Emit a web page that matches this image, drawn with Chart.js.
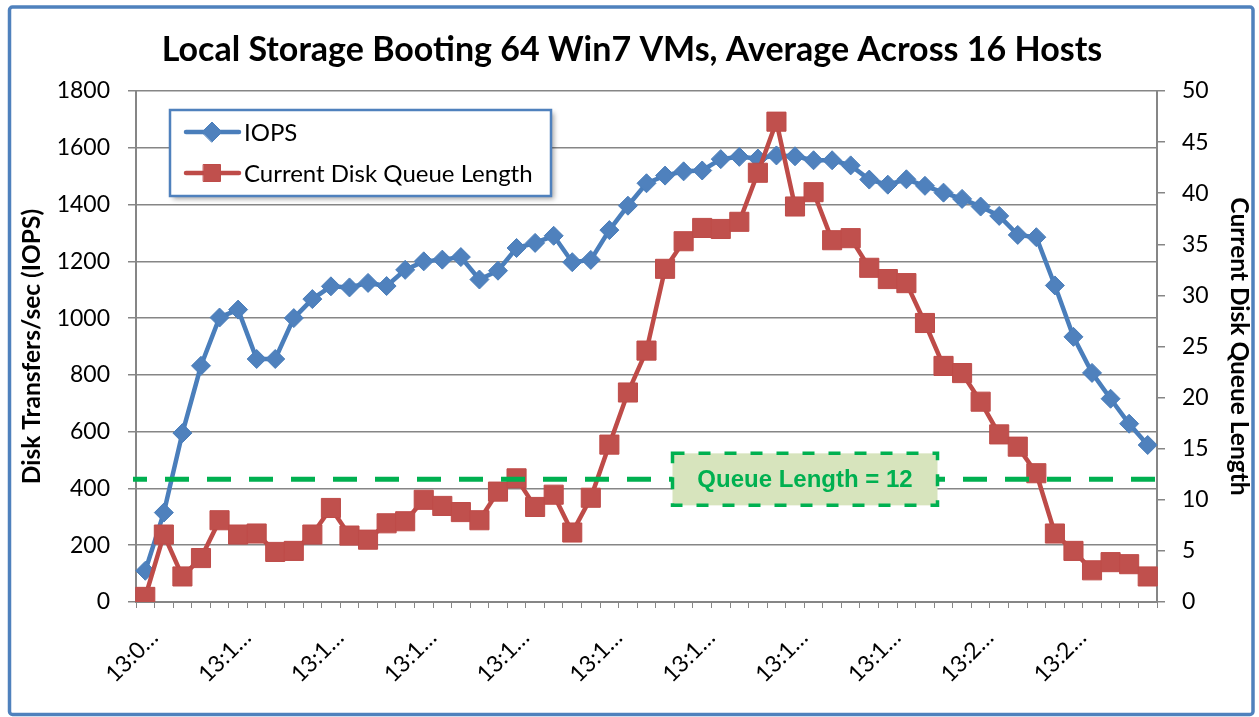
<!DOCTYPE html>
<html>
<head>
<meta charset="utf-8">
<script src="https://cdn.jsdelivr.net/npm/chart.js@4.4.0/dist/chart.umd.min.js"></script>
<style>
html,body{margin:0;padding:0;background:#fff;}
#wrap{width:1259px;height:717px;position:relative;}
</style>
</head>
<body>
<div id="wrap"><canvas id="c" width="1259" height="717"></canvas></div>
<script>
// ---- data ----
const chartTitle = 'Local Storage Booting 64 Win7 VMs, Average Across 16 Hosts';
const categories = [
  '13:0…','13:0…','13:0…','13:0…','13:0…',
  '13:1…','13:1…','13:1…','13:1…','13:1…',
  '13:1…','13:1…','13:1…','13:1…','13:1…',
  '13:1…','13:1…','13:1…','13:1…','13:1…',
  '13:1…','13:1…','13:1…','13:1…','13:1…',
  '13:1…','13:1…','13:1…','13:1…','13:1…',
  '13:1…','13:1…','13:1…','13:1…','13:1…',
  '13:1…','13:1…','13:1…','13:1…','13:1…',
  '13:1…','13:1…','13:1…','13:1…','13:1…',
  '13:2…','13:2…','13:2…','13:2…','13:2…',
  '13:2…','13:2…','13:2…','13:2…','13:2…'
];
const tickLabelEvery = 5;
const iops = [110, 315, 595, 832, 1002, 1030, 856, 856, 1000, 1067,
  1112, 1108, 1124, 1113, 1170, 1200, 1206, 1215, 1136, 1167,
  1247, 1265, 1290, 1197, 1205, 1310, 1396, 1475, 1502, 1517,
  1520, 1560, 1568, 1562, 1573, 1570, 1556, 1556, 1538, 1488,
  1470, 1489, 1466, 1442, 1420, 1393, 1360, 1293, 1285, 1115,
  934, 807, 716, 628, 553];
const queueLength = [0.5, 6.6, 2.5, 4.3, 8.0, 6.6, 6.7, 4.9, 5.0, 6.6,
  9.2, 6.5, 6.1, 7.7, 7.9, 10.0, 9.4, 8.8, 8.0, 10.8,
  12.1, 9.3, 10.5, 6.8, 10.2, 15.4, 20.5, 24.6, 32.6, 35.3,
  36.6, 36.5, 37.2, 42.0, 47.0, 38.7, 40.1, 35.4, 35.6, 32.7,
  31.6, 31.2, 27.3, 23.1, 22.4, 19.6, 16.4, 15.2, 12.6, 6.7,
  5.0, 3.1, 3.9, 3.7, 2.5];
const seriesNames = ['IOPS', 'Current Disk Queue Length'];
const queueThreshold = 12;
const thresholdText = 'Queue Length = 12';
const leftAxis = {min: 0, max: 1800, step: 200, title: 'Disk Transfers/sec (IOPS)'};
const rightAxis = {min: 0, max: 50, step: 5, title: 'Current Disk Queue Length'};

// ---- styles ----
const BLUE = '#4F81BD', BLUE_LINE = '#4A7EBB';
const RED = '#C0504D', RED_LINE = '#BE4B48';
const GREEN = '#00B050';
const GRID = '#868686';
const FONT = 'Lato';

const framePlugin = {
  id: 'frame',
  beforeDraw(chart) {
    const ctx = chart.ctx;
    ctx.save();
    ctx.fillStyle = '#fff';
    ctx.fillRect(0, 0, chart.width, chart.height);
    ctx.strokeStyle = BLUE;
    ctx.lineWidth = 3.5;
    ctx.beginPath();
    ctx.roundRect(9.5, 7, 1243.5, 707.5, 3);
    ctx.stroke();
    ctx.restore();
  }
};

const thresholdPlugin = {
  id: 'threshold',
  afterDatasetsDraw(chart) {
    const ctx = chart.ctx, a = chart.chartArea;
    const y = chart.scales.y1.getPixelForValue(queueThreshold);
    ctx.save();
    ctx.strokeStyle = GREEN;
    ctx.lineWidth = 5;
    ctx.setLineDash([24, 18]);
    ctx.lineDashOffset = 10;
    ctx.beginPath();
    ctx.moveTo(a.left - 3, y);
    ctx.lineTo(a.right - 2, y);
    ctx.stroke();
    // label box
    const bx = a.left + 536.5, bw = 265, bh = 52;
    const by = y - bh / 2;
    ctx.setLineDash([]);
    ctx.fillStyle = '#D7E4BD';
    ctx.fillRect(bx, by, bw, bh);
    ctx.setLineDash([12, 14]);
    ctx.lineDashOffset = 0;
    ctx.lineWidth = 3.5;
    ctx.strokeRect(bx, by, bw, bh);
    ctx.setLineDash([]);
    ctx.fillStyle = GREEN;
    ctx.font = 'bold 24px "Liberation Sans", Arial, sans-serif';
    ctx.textAlign = 'center';
    ctx.textBaseline = 'middle';
    ctx.fillText(thresholdText, bx + bw / 2, y + 1);
    ctx.restore();
  }
};

const legendPlugin = {
  id: 'boxLegend',
  afterDraw(chart) {
    const ctx = chart.ctx;
    const x = 170, y = 110, w = 381, h = 86;
    ctx.save();
    ctx.shadowColor = 'rgba(0,0,0,0.35)';
    ctx.shadowBlur = 5;
    ctx.shadowOffsetX = 3;
    ctx.shadowOffsetY = 3;
    ctx.fillStyle = '#fff';
    ctx.fillRect(x, y, w, h);
    ctx.restore();
    ctx.save();
    ctx.strokeStyle = BLUE;
    ctx.lineWidth = 2.5;
    ctx.strokeRect(x, y, w, h);
    const items = [
      {name: seriesNames[0], line: BLUE_LINE, fill: BLUE, style: 'rectRot', r: 10, yy: y + 22},
      {name: seriesNames[1], line: RED_LINE, fill: RED, style: 'rect', r: 12, yy: y + 63}
    ];
    items.forEach(it => {
      ctx.strokeStyle = it.line;
      ctx.lineWidth = 4.5;
      ctx.lineCap = 'round';
      ctx.beginPath();
      ctx.moveTo(x + 16, it.yy);
      ctx.lineTo(x + 69, it.yy);
      ctx.stroke();
      ctx.fillStyle = it.fill;
      ctx.strokeStyle = it.line;
      ctx.lineWidth = 1;
      Chart.helpers.drawPoint(ctx, {pointStyle: it.style, radius: it.r, rotation: 0, borderWidth: 1}, x + 42, it.yy);
      ctx.fillStyle = '#000';
      ctx.font = '24px ' + FONT;
      ctx.textAlign = 'left';
      ctx.textBaseline = 'middle';
      ctx.fillText(it.name, x + 74, it.yy + 1);
    });
    ctx.restore();
  }
};

new Chart(document.getElementById('c').getContext('2d'), {
  type: 'line',
  data: {
    labels: categories,
    datasets: [
      {
        label: seriesNames[0], data: iops, yAxisID: 'y', order: 2,
        borderColor: BLUE_LINE, backgroundColor: BLUE, borderWidth: 4.5,
        pointStyle: 'rectRot', pointRadius: 9.5, pointBorderWidth: 1,
        pointBackgroundColor: BLUE, pointBorderColor: BLUE_LINE, tension: 0
      },
      {
        label: seriesNames[1], data: queueLength, yAxisID: 'y1', order: 1,
        borderColor: RED_LINE, backgroundColor: RED, borderWidth: 4.5,
        pointStyle: 'rect', pointRadius: 13.5, pointBorderWidth: 1,
        pointBackgroundColor: RED, pointBorderColor: RED_LINE, tension: 0
      }
    ]
  },
  options: {
    responsive: false,
    animation: false,
    devicePixelRatio: 1,
    layout: {padding: {left: 10, right: 5, top: 10, bottom: 8}},
    plugins: {
      legend: {display: false},
      tooltip: {enabled: false},
      title: {
        display: true, text: chartTitle, color: '#000',
        font: {family: FONT, size: 34, weight: 'bold'},
        padding: {top: 19.6, bottom: 20.6}
      }
    },
    scales: {
      x: {
        offset: true,
        grid: {offset: true, drawOnChartArea: false, drawTicks: true, tickLength: 6, color: GRID, lineWidth: 1},
        border: {color: GRID, width: 2},
        ticks: {
          autoSkip: false, maxRotation: 45, minRotation: 45, padding: 16, labelOffset: 9,
          color: '#000', font: {family: FONT, size: 23},
          callback: (v, i) => (i % tickLabelEvery === 0 ? categories[i] : '')
        },
        afterFit: s => { s.height = 107; }
      },
      y: {
        position: 'left', min: leftAxis.min, max: leftAxis.max,
        ticks: {stepSize: leftAxis.step, padding: 18, color: '#000', font: {family: FONT, size: 23},
          callback: v => String(v)},
        grid: {color: GRID, lineWidth: 1.5, tickLength: 8},
        border: {color: GRID, width: 2},
        title: {display: true, text: leftAxis.title, color: '#000', font: {family: FONT, size: 24.5, weight: 'bold'}, padding: {top: 7, bottom: 0}},
        afterFit: s => { s.width = 126; }
      },
      y1: {
        position: 'right', min: rightAxis.min, max: rightAxis.max,
        ticks: {stepSize: rightAxis.step, padding: 17, color: '#000', font: {family: FONT, size: 23},
          callback: v => String(v)},
        grid: {drawOnChartArea: false, color: GRID, lineWidth: 1.5, tickLength: 8},
        border: {color: GRID, width: 2},
        title: {display: true, text: rightAxis.title, color: '#000', font: {family: FONT, size: 24.5, weight: 'bold'}, padding: {top: 0, bottom: 0}},
        afterFit: s => { s.width = 97; }
      }
    }
  },
  plugins: [framePlugin, thresholdPlugin, legendPlugin]
});
</script>
</body>
</html>
